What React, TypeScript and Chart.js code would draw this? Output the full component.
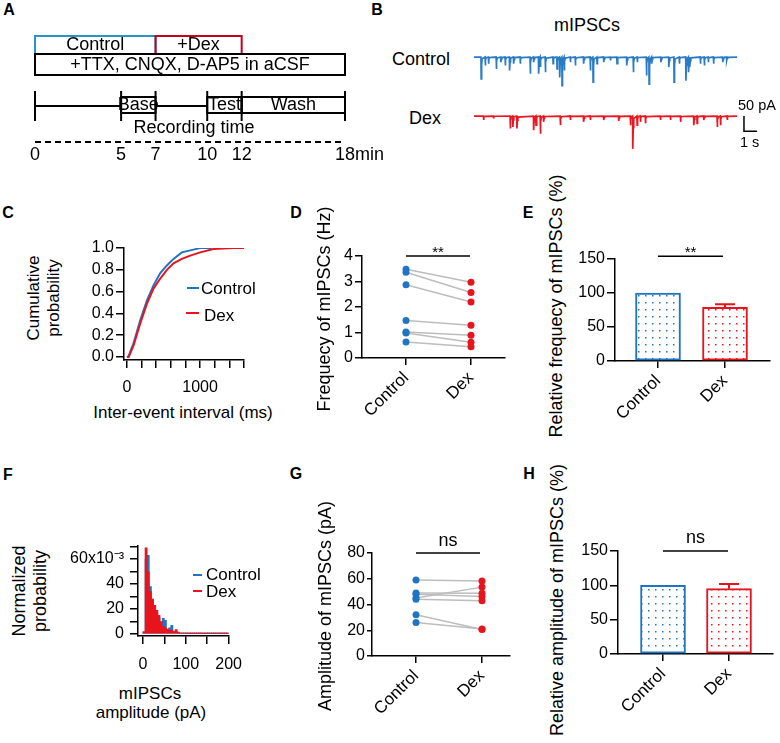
import React, { useEffect, useRef } from 'react';
import { Chart, registerables } from 'chart.js';

Chart.register(...registerables);

const FONT = '"Liberation Sans", Arial, Helvetica, sans-serif';
Chart.defaults.font.family = FONT;
Chart.defaults.color = '#000';

const BLUE = '#1f74c4';
const RED = '#e8141c';
const GREY = '#bdbdbd';
const BOX_BLUE = '#2a93c8';
const BOX_RED = '#c4001c';

// ---------------- Panel A: protocol (minutes) ----------------
const protocolTicks = [0, 5, 7, 10, 12, 18];
const protocolTickLabels = ['0', '5', '7', '10', '12', '18'];
const protocolUnit = 'min';
const drugLabels = ['Control', '+Dex'];
const drugStart = [0, 7];
const drugEnd = [7, 12];
const bathLabel = '+TTX, CNQX, D-AP5 in aCSF';
const bathStart = 0;
const bathEnd = 18;
const phaseLabels = ['Base', 'Test', 'Wash'];
const phaseStart = [5, 10, 12];
const phaseEnd = [7, 12, 18];
const idleStart = [0, 7];
const idleEnd = [5, 10];

// ---------------- Panel B: mIPSC events (s, pA) ----------------
const traceDuration = 20;
const controlEventTimes = [0.53, 0.84, 1.09, 1.68, 2.03, 2.36, 2.69, 3.0, 3.5, 4.26, 4.52, 4.9, 5.03, 5.41, 6.0, 6.3, 6.5, 6.68, 6.85, 7.31, 7.69, 8.32, 8.83, 9.04, 9.34, 9.85, 10.36, 10.86, 11.6, 12.1, 12.4, 13.1, 13.3, 13.5, 14.2, 14.8, 15.2, 15.6, 16.1, 16.3, 16.4, 17.2, 17.5, 17.8, 18.2, 18.9, 19.2];
const controlEventAmps = [72, 28, 22, 39, 17, 28, 44, 22, 22, 55, 17, 55, 33, 50, 22, 39, 67, 94, 44, 17, 28, 22, 44, 83, 22, 17, 11, 22, 28, 50, 17, 61, 89, 22, 17, 33, 83, 22, 78, 50, 33, 22, 28, 17, 22, 17, 11];
const dexEventTimes = [0.71, 1.47, 2.74, 2.94, 3.25, 4.52, 4.7, 5.03, 5.28, 6.55, 7.31, 8.32, 8.83, 9.85, 10.99, 11.88, 12.06, 12.39, 12.64, 13.02, 14.16, 14.92, 15.69, 16.7, 16.95, 17.46, 18.48, 18.73, 19.24];
const dexEventAmps = [13, 8, 41, 36, 41, 47, 30, 58, 19, 30, 13, 19, 13, 13, 16, 30, 108, 30, 19, 24, 13, 13, 19, 30, 24, 13, 36, 30, 13];
const scaleBarAt = 20.53;
const scaleBarPA = 50;
const scaleBarS = 1;

// ---------------- Panel C: cumulative probability ----------------
const cdfControlX = [0, 23, 91, 182, 273, 364, 455, 545, 636, 750, 909, 1000, 1160];
const cdfControlY = [0, 0.01, 0.13, 0.34, 0.52, 0.66, 0.77, 0.84, 0.9, 0.96, 0.985, 1.0, 1.0];
const cdfDexX = [0, 23, 91, 182, 273, 364, 455, 545, 636, 750, 864, 1000, 1182, 1455, 1605];
const cdfDexY = [0, 0.0, 0.11, 0.31, 0.49, 0.63, 0.72, 0.8, 0.86, 0.9, 0.93, 0.96, 0.99, 1.0, 1.0];
const cTicksX = [0, 200, 400, 600, 800, 1000, 1200, 1400, 1600];
const cLabeledX = [0, 1000];
const cTicksY = [0, 0.2, 0.4, 0.6, 0.8, 1.0];

// ---------------- Panels D / G: paired values ----------------
const groupLabels = ['Control', 'Dex'];
const freqControl = [3.48, 3.36, 2.87, 1.47, 1.02, 0.98, 0.63];
const freqDex = [2.97, 2.57, 2.2, 1.28, 0.89, 0.62, 0.44];
const freqTicks = [0, 1, 2, 3, 4];
const ampControl = [59, 49, 48, 45, 44, 32, 26];
const ampDex = [58.2, 48.8, 46.2, 53.5, 43, 20.5, 21];
const ampTicks = [0, 20, 40, 60, 80];

// ---------------- Panels E / H: relative bars ----------------
const relFreqMean = [100, 79];
const relFreqSem = [0, 4.4];
const relAmpMean = [100, 95.1];
const relAmpSem = [0, 6.8];
const relTicks = [0, 50, 100, 150];

// ---------------- Panel F: amplitude histogram (x10^-3) ----------------
const ampBinWidth = 5;
const histDex = [2, 69, 50, 34, 28, 23, 19, 15, 10, 6, 5, 4, 3, 3, 2, 3.5, 1.5, 1, 1, 1, 1, 1, 1, 1, 1, 1, 1, 1, 1, 1, 1, 1, 1, 1, 1, 1, 1, 1, 1, 1];
const histControl = [1, 60, 63, 38, 27, 22, 17, 13, 9, 12.5, 11, 3, 5, 7, 2, 2, 1, 0.5, 0.5, 0.5, 0.3, 0.3, 0.3, 0.3, 0.3, 0.3, 0.3, 0.3, 0.3, 0.3, 0.3, 0.3, 0.3, 0.3, 0.3, 0.3, 0.3, 0.3, 0.3, 0.3];
const fTicksX = [0, 50, 100, 150, 200];
const fLabeledX = [0, 100, 200];
const fTicksY = [0, 10, 20, 30, 40, 50, 60, 70];
const fLabelsY: Record<number, string> = { 0: '0', 20: '20', 40: '40', 60: '60x10\u207B\u00B3' };

// ---------------- significance ----------------
const freqSig = { text: '**', level: 4 };
const relFreqSig = { text: '**', level: 154 };
const ampSig = { text: 'ns', level: 80 };
const relAmpSig = { text: 'ns', level: 150 };

// ================= layout helpers =================
type Rect = { left: number; top: number; width: number; height: number };
type Area = { l: number; t: number; r: number; b: number };

function frame(box: Rect, area: Area) {
  return {
    padding: { top: area.t - box.top, right: box.left + box.width - area.r, left: 0, bottom: 0 },
    yW: area.l - box.left,
    xH: box.top + box.height - area.b,
  };
}

function baseOptions(padding: any) {
  return {
    responsive: false,
    maintainAspectRatio: false,
    animation: false as const,
    events: [] as any[],
    layout: { padding },
    plugins: { legend: { display: false }, tooltip: { enabled: false }, title: { display: false } },
  };
}

type AxisCfg = {
  min: number; max: number; ticks: number[]; labels: (v: number) => string;
  size: number; tickLength: number; pad: number; fix: number; rotate?: number;
};

function axis(dir: 'x' | 'y', c: AxisCfg) {
  return {
    type: 'linear',
    position: dir === 'x' ? 'bottom' : 'left',
    min: c.min,
    max: c.max,
    offset: false,
    afterBuildTicks: (s: any) => { s.ticks = c.ticks.map((v) => ({ value: v })); },
    afterFit: (s: any) => { if (dir === 'x') s.height = c.fix; else s.width = c.fix; },
    grid: { display: true, drawOnChartArea: false, drawTicks: true, tickLength: c.tickLength, color: '#000', lineWidth: 1.5, offset: false },
    border: { display: true, color: '#000', width: 1.5 },
    ticks: {
      color: '#000', autoSkip: false, padding: c.pad, font: { family: FONT, size: c.size },
      callback: (v: any) => c.labels(Number(v)),
      minRotation: c.rotate || 0, maxRotation: c.rotate || 0,
    },
  };
}

function sigPlugin(x0: number, x1: number, sig: { text: string; level: number }, size: number, lift: number) {
  return {
    id: 'sig',
    afterDraw(chart: any) {
      const { ctx } = chart;
      const xs = chart.scales.x, ys = chart.scales.y;
      const y = ys.getPixelForValue(sig.level);
      const a = xs.getPixelForValue(x0), b = xs.getPixelForValue(x1);
      ctx.save();
      ctx.strokeStyle = '#000';
      ctx.lineWidth = 1.5;
      ctx.beginPath(); ctx.moveTo(a, y); ctx.lineTo(b, y); ctx.stroke();
      ctx.fillStyle = '#000';
      ctx.font = `${size}px ${FONT}`;
      ctx.textAlign = 'center';
      ctx.textBaseline = 'alphabetic';
      ctx.fillText(sig.text, (a + b) / 2, y - lift);
      ctx.restore();
    },
  };
}

function errorPlugin(means: number[], sems: number[], colors: string[]) {
  return {
    id: 'errbars',
    afterDatasetsDraw(chart: any) {
      const { ctx } = chart;
      const xs = chart.scales.x, ys = chart.scales.y;
      ctx.save();
      ctx.lineWidth = 2;
      means.forEach((m, i) => {
        if (!sems[i]) return;
        const x = xs.getPixelForValue(i);
        const y0 = ys.getPixelForValue(m);
        const y1 = ys.getPixelForValue(m + sems[i]);
        ctx.strokeStyle = colors[i];
        ctx.beginPath();
        ctx.moveTo(x, y0); ctx.lineTo(x, y1);
        ctx.moveTo(x - 10, y1); ctx.lineTo(x + 10, y1);
        ctx.stroke();
      });
      ctx.restore();
    },
  };
}

function dotPattern(ctx: CanvasRenderingContext2D, color: string) {
  const p = document.createElement('canvas');
  p.width = 7; p.height = 7;
  const g = p.getContext('2d')!;
  g.fillStyle = '#ffffff';
  g.fillRect(0, 0, 7, 7);
  g.fillStyle = color;
  g.fillRect(3, 3, 1.5, 1.5);
  return ctx.createPattern(p, 'repeat');
}

// ================= Panel A =================
const A_BOX: Rect = { left: 0, top: 25, width: 385, height: 145 };
const A_L = 35, A_R = 345;

const protocolPlugin = {
  id: 'protocol',
  afterDraw(chart: any) {
    const { ctx } = chart;
    const xs = chart.scales.x;
    const X = (v: number) => xs.getPixelForValue(v);
    const Y = (py: number) => py - A_BOX.top;
    ctx.save();
    ctx.lineWidth = 2;
    ctx.font = `18px ${FONT}`;
    ctx.textAlign = 'center';
    ctx.textBaseline = 'middle';
    ctx.fillStyle = '#000';
    const drugColors = [BOX_BLUE, BOX_RED];
    drugLabels.forEach((lab, i) => {
      const x0 = X(drugStart[i]), x1 = X(drugEnd[i]);
      ctx.strokeStyle = drugColors[i];
      ctx.strokeRect(x0, Y(36), x1 - x0, 18);
      ctx.fillText(lab, (x0 + x1) / 2, Y(45.5));
    });
    ctx.strokeStyle = '#000';
    ctx.strokeRect(X(bathStart), Y(54), X(bathEnd) - X(bathStart), 21);
    ctx.fillText(bathLabel, (X(bathStart) + X(bathEnd)) / 2, Y(65));
    // timeline
    ctx.beginPath();
    idleStart.forEach((s, i) => { ctx.moveTo(X(s), Y(106)); ctx.lineTo(X(idleEnd[i]), Y(106)); });
    protocolTicks.forEach((t) => { ctx.moveTo(X(t), Y(91)); ctx.lineTo(X(t), Y(121)); });
    ctx.stroke();
    phaseLabels.forEach((lab, i) => {
      const x0 = X(phaseStart[i]), x1 = X(phaseEnd[i]);
      ctx.strokeRect(x0, Y(97), x1 - x0, 16);
      ctx.fillText(lab, (x0 + x1) / 2, Y(105.5));
    });
    ctx.fillText('Recording time', (X(bathStart) + X(bathEnd)) / 2 + 4, Y(128));
    ctx.setLineDash([6, 4]);
    ctx.beginPath(); ctx.moveTo(X(bathStart), Y(142)); ctx.lineTo(X(bathEnd), Y(142)); ctx.stroke();
    ctx.setLineDash([]);
    protocolTicks.forEach((t, i) => {
      const lab = protocolTickLabels[i];
      if (i === protocolTicks.length - 1) {
        const w = ctx.measureText(lab).width;
        ctx.textAlign = 'left';
        ctx.fillText(lab + protocolUnit, X(t) - w / 2, Y(155));
        ctx.textAlign = 'center';
      } else {
        ctx.fillText(lab, X(t), Y(155));
      }
    });
    ctx.restore();
  },
};

const makeA = () => ({
  type: 'line',
  data: { datasets: [] },
  options: {
    ...baseOptions({ left: A_L - A_BOX.left, right: A_BOX.left + A_BOX.width - A_R, top: 0, bottom: 0 }),
    scales: {
      x: { type: 'linear', display: false, min: protocolTicks[0], max: protocolTicks[protocolTicks.length - 1] },
      y: { type: 'linear', display: false, min: 0, max: 1 },
    },
  },
  plugins: [protocolPlugin],
});

// ================= Panel B =================
const PX_PER_S = 13.15;
const PX_PER_PA = 0.304;
const Y_MIN_PA = -115;
const CT_BOX: Rect = { left: 474, top: 54, width: 263, height: 38 };
const DT_BOX: Rect = { left: 474, top: 98, width: 306, height: 53 };

function buildTrace(times: number[], amps: number[], tEnd: number) {
  const pts: { x: number; y: number }[] = [{ x: 0, y: 0 }];
  times.forEach((t, i) => {
    const a = amps[i];
    pts.push({ x: t, y: 0 }, { x: t + 0.015, y: -a }, { x: t + 0.05, y: -a * 0.35 }, { x: t + 0.09, y: -a * 0.08 });
  });
  pts.push({ x: tEnd, y: 0 });
  return pts;
}

const scaleBarPlugin = {
  id: 'scalebar',
  afterDraw(chart: any) {
    const { ctx } = chart;
    const xs = chart.scales.x, ys = chart.scales.y;
    const x0 = xs.getPixelForValue(scaleBarAt);
    const x1 = xs.getPixelForValue(scaleBarAt + scaleBarS);
    const y0 = ys.getPixelForValue(0);
    const y1 = ys.getPixelForValue(-scaleBarPA);
    ctx.save();
    ctx.strokeStyle = '#000';
    ctx.lineWidth = 1.5;
    ctx.beginPath(); ctx.moveTo(x0, y0); ctx.lineTo(x0, y1); ctx.lineTo(x1, y1); ctx.stroke();
    ctx.fillStyle = '#000';
    ctx.font = `14.5px ${FONT}`;
    ctx.textAlign = 'left';
    ctx.textBaseline = 'middle';
    ctx.fillText(`${scaleBarPA} pA`, x0 - 6, ys.getPixelForValue(33));
    ctx.fillText(`${scaleBarS} s`, x0 - 4, ys.getPixelForValue(-90));
    ctx.restore();
  },
};

function makeTrace(box: Rect, times: number[], amps: number[], color: string, extra: any[]) {
  return () => ({
    type: 'line',
    data: { datasets: [{ data: buildTrace(times, amps, traceDuration), borderColor: color, borderWidth: 1.7, pointRadius: 0, tension: 0, fill: false }] },
    options: {
      ...baseOptions({ left: 0, right: 0, top: 0, bottom: 0 }),
      scales: {
        x: { type: 'linear', display: false, min: 0, max: box.width / PX_PER_S },
        y: { type: 'linear', display: false, min: Y_MIN_PA, max: Y_MIN_PA + box.height / PX_PER_PA },
      },
    },
    plugins: extra,
  });
}

// ================= Panel C =================
const C_BOX: Rect = { left: 70, top: 232, width: 196, height: 170 };
const C_AREA: Area = { l: 124, t: 248, r: 244, b: 360 };
const makeC = () => {
  const f = frame(C_BOX, C_AREA);
  return {
    type: 'line',
    data: {
      datasets: [
        { data: cdfDexX.map((x, i) => ({ x, y: cdfDexY[i] })), borderColor: RED, borderWidth: 2, pointRadius: 0, tension: 0 },
        { data: cdfControlX.map((x, i) => ({ x, y: cdfControlY[i] })), borderColor: BLUE, borderWidth: 2, pointRadius: 0, tension: 0 },
      ],
    },
    options: {
      ...baseOptions(f.padding),
      scales: {
        x: axis('x', { min: -41, max: 1600, ticks: cTicksX, labels: (v) => (cLabeledX.includes(v) ? String(v) : ''), size: 16, tickLength: 8, pad: 10, fix: f.xH }),
        y: axis('y', { min: -0.027, max: 1.0, ticks: cTicksY, labels: (v) => v.toFixed(1), size: 16, tickLength: 8, pad: 2, fix: f.yW }),
      },
    },
  };
};

// ================= Panels D / G =================
function makePaired(box: Rect, area: Area, ctrl: number[], dex: number[], yTicks: number[], xMin: number, xMax: number, sig: any, sigX1: number, sigSize: number, sigLift: number, yTick: number, yPad: number) {
  return () => {
    const f = frame(box, area);
    return {
      type: 'scatter',
      data: {
        datasets: [
          { data: ctrl.map((v) => ({ x: 0, y: v })), backgroundColor: BLUE, borderWidth: 0, pointRadius: 3.5 },
          { data: dex.map((v) => ({ x: 1, y: v })), backgroundColor: RED, borderWidth: 0, pointRadius: 3.5 },
          ...ctrl.map((c, i) => ({ data: [{ x: 0, y: c }, { x: 1, y: dex[i] }], showLine: true, borderColor: GREY, borderWidth: 1.5, pointRadius: 0 })),
        ],
      },
      options: {
        ...baseOptions(f.padding),
        scales: {
          x: axis('x', { min: xMin, max: xMax, ticks: groupLabels.map((_, i) => i), labels: (v) => groupLabels[v] ?? '', size: 17, tickLength: 7, pad: 3, fix: f.xH, rotate: 45 }),
          y: axis('y', { min: yTicks[0], max: yTicks[yTicks.length - 1], ticks: yTicks, labels: (v) => String(v), size: 16, tickLength: yTick, pad: yPad, fix: f.yW }),
        },
      },
      plugins: [sigPlugin(0, sigX1, sig, sigSize, sigLift)],
    };
  };
}

const D_BOX: Rect = { left: 330, top: 238, width: 185, height: 182 };
const D_AREA: Area = { l: 362, t: 256, r: 505, b: 358 };
const G_BOX: Rect = { left: 335, top: 533, width: 185, height: 192 };
const G_AREA: Area = { l: 372, t: 553, r: 510, b: 656 };

// ================= Panels E / H =================
function makeRel(box: Rect, area: Area, means: number[], sems: number[], xMin: number, xMax: number, sig: any, sigX1: number, sigSize: number, sigLift: number, yTick: number, yPad: number) {
  return (ctx: CanvasRenderingContext2D) => {
    const f = frame(box, area);
    return {
      type: 'bar',
      data: {
        datasets: [{
          data: means.map((v, i) => ({ x: i, y: v })),
          backgroundColor: [dotPattern(ctx, BLUE), dotPattern(ctx, RED)],
          borderColor: [BLUE, RED],
          borderWidth: 2,
          borderSkipped: false,
          barThickness: 45,
          grouped: false,
        }],
      },
      options: {
        ...baseOptions(f.padding),
        scales: {
          x: axis('x', { min: xMin, max: xMax, ticks: groupLabels.map((_, i) => i), labels: (v) => groupLabels[v] ?? '', size: 17, tickLength: 7, pad: 3, fix: f.xH, rotate: 45 }),
          y: axis('y', { min: relTicks[0], max: relTicks[relTicks.length - 1], ticks: relTicks, labels: (v) => String(v), size: 16, tickLength: yTick, pad: yPad, fix: f.yW }),
        },
      },
      plugins: [errorPlugin(means, sems, [BLUE, RED]), sigPlugin(0, sigX1, sig, sigSize, sigLift)],
    };
  };
}

const E_BOX: Rect = { left: 572, top: 236, width: 206, height: 184 };
const E_AREA: Area = { l: 615, t: 259, r: 770, b: 361 };
const H_BOX: Rect = { left: 575, top: 530, width: 203, height: 195 };
const H_AREA: Area = { l: 618, t: 551, r: 773, b: 654 };

// ================= Panel F =================
const F_BOX: Rect = { left: 58, top: 530, width: 195, height: 150 };
const F_AREA: Area = { l: 138, t: 546, r: 231, b: 636 };
const makeF = () => {
  const f = frame(F_BOX, F_AREA);
  const centers = histDex.map((_, i) => i * ampBinWidth + ampBinWidth / 2);
  return {
    type: 'bar',
    data: {
      datasets: [
        { data: histDex.map((v, i) => ({ x: centers[i], y: v })), backgroundColor: RED, borderWidth: 0, barPercentage: 1, categoryPercentage: 1, grouped: false },
        { data: histControl.map((v, i) => ({ x: centers[i], y: v })), backgroundColor: BLUE, borderWidth: 0, barPercentage: 1, categoryPercentage: 1, grouped: false },
      ],
    },
    options: {
      ...baseOptions(f.padding),
      scales: {
        x: axis('x', { min: -11.4, max: 200, ticks: fTicksX, labels: (v) => (fLabeledX.includes(v) ? String(v) : ''), size: 16, tickLength: 8, pad: 11, fix: f.xH }),
        y: axis('y', { min: -1.6, max: 70.4, ticks: fTicksY, labels: (v) => fLabelsY[v] ?? '', size: 16, tickLength: 8, pad: 6, fix: f.yW }),
      },
    },
  };
};

// ================= components =================
function ChartCanvas({ box, make }: { box: Rect; make: (ctx: CanvasRenderingContext2D) => any }) {
  const ref = useRef<HTMLCanvasElement>(null);
  useEffect(() => {
    const c = ref.current!;
    const chart = new Chart(c, make(c.getContext('2d')!));
    return () => chart.destroy();
  }, []);
  return (
    <canvas
      ref={ref}
      width={box.width}
      height={box.height}
      style={{ position: 'absolute', left: box.left, top: box.top, width: box.width, height: box.height }}
    />
  );
}

function Txt({ x, y, s, size = 18, bold = false, rot = 0, anchor = 'c' }: { x: number; y: number; s: string; size?: number; bold?: boolean; rot?: number; anchor?: 'c' | 'l' | 'r' }) {
  const tx = anchor === 'c' ? '-50%' : anchor === 'l' ? '0%' : '-100%';
  return (
    <div
      style={{
        position: 'absolute', left: x, top: y,
        transform: `translate(${tx}, -50%) rotate(${rot}deg)`,
        fontSize: size, fontWeight: bold ? 700 : 400, lineHeight: 1,
        whiteSpace: 'nowrap', fontFamily: FONT, color: '#000',
      }}
    >
      {s}
    </div>
  );
}

function Dash({ x1, x2, y, color }: { x1: number; x2: number; y: number; color: string }) {
  return <div style={{ position: 'absolute', left: x1, top: y - 1, width: x2 - x1, height: 2, background: color }} />;
}

const makeD = makePaired(D_BOX, D_AREA, freqControl, freqDex, freqTicks, -(406 - 362) / 65, 1 + (505 - 471) / 65, freqSig, 0.985, 15, -1, 7, 2);
const makeG = makePaired(G_BOX, G_AREA, ampControl, ampDex, ampTicks, -(416 - 372) / 66, 1 + (510 - 482) / 66, ampSig, 0.97, 18, 7, 5, 2);
const makeE = makeRel(E_BOX, E_AREA, relFreqMean, relFreqSem, -(658 - 615) / 67, 1 + (770 - 725) / 67, relFreqSig, 0.97, 15, -1, 8, 2);
const makeH = makeRel(H_BOX, H_AREA, relAmpMean, relAmpSem, -(663 - 618) / 66, 1 + (773 - 729) / 66, relAmpSig, 0.985, 18, 8, 8, 2);
const makeCT = makeTrace(CT_BOX, controlEventTimes, controlEventAmps, '#2a7bc6', []);
const makeDT = makeTrace(DT_BOX, dexEventTimes, dexEventAmps, '#ec1620', [scaleBarPlugin]);

export default function App() {
  return (
    <div style={{ position: 'absolute', left: 0, top: 0, width: 780, height: 743, background: '#fff', overflow: 'hidden', fontFamily: FONT }}>
      <ChartCanvas box={A_BOX} make={makeA} />
      <ChartCanvas box={CT_BOX} make={makeCT} />
      <ChartCanvas box={DT_BOX} make={makeDT} />
      <ChartCanvas box={C_BOX} make={makeC} />
      <ChartCanvas box={D_BOX} make={makeD} />
      <ChartCanvas box={E_BOX} make={makeE} />
      <ChartCanvas box={F_BOX} make={makeF} />
      <ChartCanvas box={G_BOX} make={makeG} />
      <ChartCanvas box={H_BOX} make={makeH} />

      {/* panel letters */}
      <Txt x={9} y={10} s="A" size={16} bold />
      <Txt x={377} y={10} s="B" size={16} bold />
      <Txt x={8} y={213} s="C" size={16} bold />
      <Txt x={296} y={213} s="D" size={16} bold />
      <Txt x={528} y={213} s="E" size={16} bold />
      <Txt x={8} y={475} s="F" size={16} bold />
      <Txt x={296} y={474} s="G" size={16} bold />
      <Txt x={529} y={474} s="H" size={16} bold />

      {/* panel B labels */}
      <Txt x={587} y={25} s="mIPSCs" size={18} />
      <Txt x={421} y={59} s="Control" size={18} />
      <Txt x={425} y={118} s="Dex" size={18} />

      {/* panel C */}
      <Txt x={33} y={298} s="Cumulative" size={17} rot={-90} />
      <Txt x={53} y={298} s="probability" size={17} rot={-90} />
      <Txt x={183} y={412} s="Inter-event interval (ms)" size={17} />
      <Dash x1={187} x2={199} y={288} color={BLUE} />
      <Txt x={201} y={288} s="Control" size={17} anchor="l" />
      <Dash x1={186} x2={199} y={313} color={RED} />
      <Txt x={204} y={315} s="Dex" size={17} anchor="l" />

      {/* panel D / E */}
      <Txt x={324} y={309} s="Frequecy of mIPSCs (Hz)" size={18} rot={-90} />
      <Txt x={556} y={306} s="Relative frequecy of mIPSCs (%)" size={18} rot={-90} />

      {/* panel F */}
      <Txt x={19} y={591} s="Normalized" size={18} rot={-90} />
      <Txt x={40} y={591} s="probability" size={18} rot={-90} />
      <Txt x={150} y={693} s="mIPSCs" size={17} />
      <Txt x={151} y={712} s="amplitude (pA)" size={17} />
      <Dash x1={193} x2={202} y={575} color={BLUE} />
      <Txt x={206} y={574} s="Control" size={17} anchor="l" />
      <Dash x1={193} x2={202} y={591} color={RED} />
      <Txt x={206} y={591} s="Dex" size={17} anchor="l" />

      {/* panel G / H */}
      <Txt x={325} y={606} s="Amplitude of mIPSCs (pA)" size={18} rot={-90} />
      <Txt x={557} y={600} s="Relative amplitude of mIPSCs (%)" size={18} rot={-90} />
    </div>
  );
}
